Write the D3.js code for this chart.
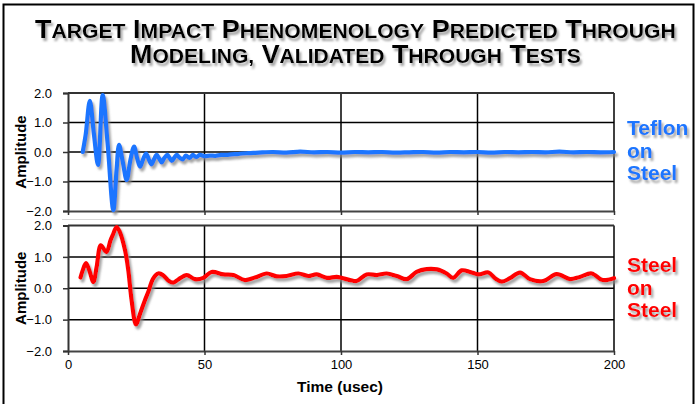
<!DOCTYPE html>
<html><head><meta charset="utf-8">
<script src="https://cdn.jsdelivr.net/npm/d3@7"></script>
<style>html,body{margin:0;padding:0;background:#fff;}svg{display:block;}</style>
</head><body>
<svg id="c" width="698" height="404"></svg>
<script>
// ---- data ----
const xTicks = [0, 50, 100, 150, 200];
const yTicks = [2, 1, 0, -1, -2];
const titleLines = ["TARGET IMPACT PHENOMENOLOGY PREDICTED THROUGH", "MODELING, VALIDATED THROUGH TESTS"];
const topLabel = ["Teflon", "on", "Steel"];
const bottomLabel = ["Steel", "on", "Steel"];
const xLabel = "Time (usec)";
const yLabel = "Amplitude";

const teflonTime = [5.4,6.5,8.0,9.5,11.0,12.7,14.5,16.6,17.8,18.7,20.0,21.5,22.8,24.2,25.3,26.4,27.5,28.6,29.6,30.6,31.5,32.5,33.4,34.3,35.3,36.4,37.2,38.0,39.0,39.8,41.0,42.0,43.2,44.5,45.7,47.0,48.3,50,52,54,56,58,60,62,64,66,68,70,75,80,85,90,95,100,105,110,115,120,125,130,135,140,145,150,155,160,165,170,175,180,185,190,195,200];
const teflonAmp  = [0,0.6,1.73,0.6,-0.44,1.93,0.3,-1.97,-0.6,0.24,-0.3,-0.95,-0.3,0.18,-0.2,-0.5,-0.25,-0.05,-0.25,-0.42,-0.25,-0.1,-0.22,-0.35,-0.2,-0.1,-0.2,-0.3,-0.18,-0.1,-0.2,-0.25,-0.12,-0.2,-0.1,-0.17,-0.1,-0.14,-0.12,-0.13,-0.1,-0.1,-0.08,-0.07,-0.05,-0.04,-0.03,-0.02,0.0,-0.02,0.01,-0.01,0.0,-0.02,0.0,-0.01,0.0,-0.02,-0.01,0.0,-0.02,0.0,-0.01,0.0,-0.02,0.0,-0.01,0.0,-0.01,0.01,-0.01,0.0,-0.01,0.0];

const steelTime = [4.6,5.4,6.6,7.8,9.3,10.5,12.0,13.6,14.2,15.6,16.4,17.8,19.0,20.9,22.1,23.3,24.9,26.4,28.2,29.4,31.2,33.1,34.9,36.7,38.6,40.4,43.5,46.5,49.6,52.6,56.9,60.6,64.8,68.5,72.8,76.4,80.1,84.4,88.0,91.1,94.8,98.4,100.2,103.3,105.7,109.4,113.1,116.7,120.4,124.1,127.7,131.4,135.1,138.7,141.1,144.2,147.3,150.3,154.0,156.4,158.9,161.9,165.6,169.2,174.1,179.0,183.9,187.5,191.8,195.5,197.9,200];
const steelAmp  = [0.34,0.57,0.8,0.57,0.2,0.68,1.37,1.19,1.16,1.53,1.69,1.95,1.79,1.21,0.57,-0.38,-1.15,-0.81,-0.38,-0.12,0.31,0.47,0.41,0.25,0.18,0.28,0.42,0.29,0.33,0.52,0.44,0.42,0.26,0.34,0.47,0.38,0.39,0.47,0.39,0.44,0.33,0.36,0.33,0.26,0.23,0.44,0.42,0.47,0.39,0.29,0.52,0.61,0.6,0.47,0.33,0.57,0.52,0.44,0.5,0.32,0.21,0.32,0.5,0.29,0.23,0.45,0.29,0.36,0.47,0.27,0.27,0.32];

// ---- layout ----
const svg = d3.select("#c");
const W = 698, H = 404;
const x = d3.scaleLinear().domain([0, 200]).range([68, 614]);
const panels = [
  {time: teflonTime, amp: teflonAmp, color: "#1a75ff", label: topLabel, y: d3.scaleLinear().domain([-2, 2]).range([211, 93]), labelY: 135},
  {time: steelTime, amp: steelAmp, color: "#ff0000", label: bottomLabel, y: d3.scaleLinear().domain([-2, 2]).range([351, 225.5]), labelY: 272}
];

const defs = svg.append("defs");
const f = defs.append("filter").attr("id", "sh").attr("x", "-10%").attr("y", "-10%").attr("width", "130%").attr("height", "130%");
f.append("feGaussianBlur").attr("in", "SourceAlpha").attr("stdDeviation", 1.2).attr("result", "b");
f.append("feOffset").attr("in", "b").attr("dx", 2).attr("dy", 2.5).attr("result", "o");
f.append("feFlood").attr("flood-color", "#888").attr("flood-opacity", 0.75).attr("result", "c");
f.append("feComposite").attr("in", "c").attr("in2", "o").attr("operator", "in").attr("result", "s");
const m = f.append("feMerge");
m.append("feMergeNode").attr("in", "s");
m.append("feMergeNode").attr("in", "SourceGraphic");

svg.append("rect").attr("width", W).attr("height", H).attr("fill", "#fff");
// outer frame
svg.append("rect").attr("x", 3.5).attr("y", 4.5).attr("width", 690).attr("height", 420)
  .attr("fill", "none").attr("stroke", "#000").attr("stroke-width", 2);

// title with small caps
const titleG = svg.append("g").attr("filter", "url(#sh)");
const titleBase = [38, 63];
const titleCx = 355.5;
const titleW = [641, 451];
titleLines.forEach((line, i) => {
  const t = titleG.append("text").attr("x", 0).attr("y", 0)
    .attr("font-family", "Liberation Sans, Arial, sans-serif").attr("font-weight", "bold").attr("fill", "#000");
  line.split(" ").forEach((word, wi) => {
    t.append("tspan").attr("font-size", 25.5).text((wi ? " " : "") + word[0]);
    t.append("tspan").attr("font-size", 20).text(word.slice(1));
  });
  const w = t.node().getComputedTextLength();
  const s = titleW[i] / w;
  t.attr("transform", `translate(${titleCx - titleW[i] / 2},${titleBase[i]}) scale(${s},1)`);
});

panels.forEach((p, pi) => {
  const y = p.y;
  const g = svg.append("g");
  // vertical gridlines
  g.selectAll("line.v").data(xTicks.slice(1)).join("line")
    .attr("x1", d => x(d)).attr("x2", d => x(d)).attr("y1", y(2)).attr("y2", y(-2))
    .attr("stroke", "#000").attr("stroke-width", 1.5);
  // horizontal gridlines
  g.selectAll("line.h").data(yTicks.filter(d => d > -2)).join("line")
    .attr("x1", x(0)).attr("x2", x(200)).attr("y1", d => y(d)).attr("y2", d => y(d))
    .attr("stroke", d => d === 2 ? "#333" : "#000").attr("stroke-width", d => d === 2 ? 1.8 : 1.5);
  // y axis
  const ya = d3.axisLeft(y).tickValues(yTicks).tickSize(5).tickFormat(d3.format(".1f"));
  const yg = g.append("g").attr("transform", `translate(${x(0)},0)`).call(ya);
  yg.select(".domain").attr("stroke", "#333").attr("stroke-width", 2);
  yg.selectAll(".tick line").attr("stroke", "#333").attr("stroke-width", 1.5);
  yg.selectAll(".tick text").attr("font-family", "Liberation Sans, Arial, sans-serif").attr("font-size", 13).attr("fill", "#000").attr("x", -16);
  // x axis
  const xa = d3.axisBottom(x).tickValues(xTicks).tickSize(4).tickSizeOuter(0).tickFormat(pi === 1 ? d3.format("d") : () => "");
  const xg = g.append("g").attr("transform", `translate(0,${y(-2)})`).call(xa);
  xg.select(".domain").attr("stroke", "#444").attr("stroke-width", 2);
  xg.selectAll(".tick line").attr("stroke", "#333").attr("stroke-width", 1.5);
  xg.selectAll(".tick text").attr("font-family", "Liberation Sans, Arial, sans-serif").attr("font-size", 13).attr("fill", "#000").attr("dy", "0.95em").attr("y", 6);
  // line
  const line = d3.line().x(d => x(d[0])).y(d => y(d[1])).curve(d3.curveCatmullRom.alpha(0.5));
  const pts = p.time.map((t, i) => [t, p.amp[i]]);
  g.append("path").datum(pts).attr("d", line).attr("fill", "none")
    .attr("stroke", p.color).attr("stroke-width", 4.2).attr("stroke-linejoin", "round").attr("stroke-linecap", "round")
    .attr("filter", "url(#sh)");
  // y label
  g.append("text").attr("transform", `translate(26,${(y(2) + y(-2)) / 2}) rotate(-90)`)
    .attr("text-anchor", "middle").attr("font-family", "Liberation Sans, Arial, sans-serif")
    .attr("font-weight", "bold").attr("font-size", 15).text(yLabel);
  // right label
  const lt = g.append("text").attr("font-family", "Liberation Sans, Arial, sans-serif").attr("font-weight", "bold")
    .attr("font-size", 21).attr("fill", p.color).attr("filter", "url(#sh)");
  p.label.forEach((s, i) => lt.append("tspan").attr("x", 627).attr("y", p.labelY + i * 22.5).text(s));
});

// faint separator
svg.append("line").attr("x1", 62).attr("x2", 614).attr("y1", 219.5).attr("y2", 219.5).attr("stroke", "#d8d8d8").attr("stroke-width", 1);

svg.append("text").attr("x", 340).attr("y", 392).attr("text-anchor", "middle")
  .attr("font-family", "Liberation Sans, Arial, sans-serif").attr("font-weight", "bold").attr("font-size", 15.5).text(xLabel);
</script>
</body></html>
